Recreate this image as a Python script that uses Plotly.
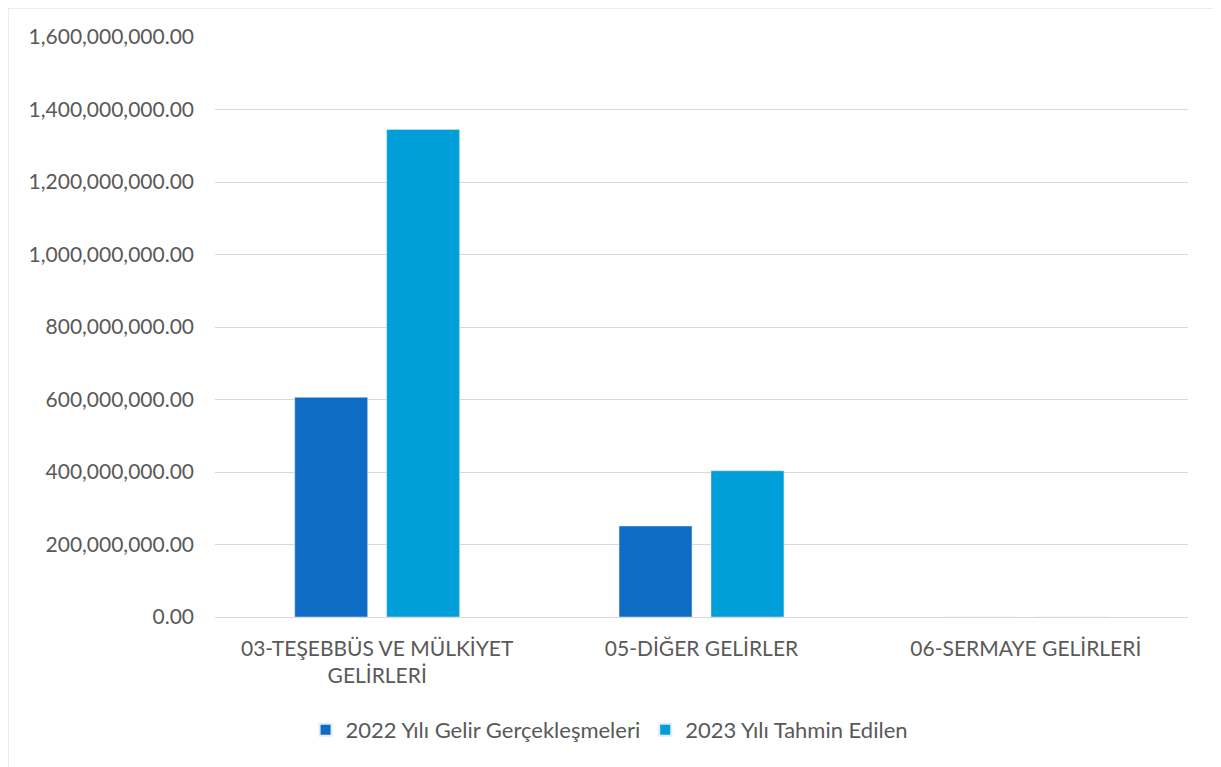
import plotly.graph_objects as go

categories = ["03-TEŞEBBÜS VE MÜLKİYET<br>GELİRLERİ", "05-DİĞER GELİRLER", "06-SERMAYE GELİRLERİ"]
series_2022 = [606000000, 251000000, 0]
series_2023 = [1345000000, 403500000, 0]
name_2022 = "2022 Yılı Gelir Gerçekleşmeleri"
name_2023 = "2023 Yılı Tahmin Edilen"
tick_vals = [0, 200000000, 400000000, 600000000, 800000000, 1000000000, 1200000000, 1400000000, 1600000000]

# page body has an 8px margin; figure coordinates are offset accordingly
OFF = 8
W, H = 1221 - OFF, 767 - OFF
L, R, T, B = 215 - OFF, 33, 37 - OFF, 150
pw, ph = W - L - R, H - T - B

fig = go.Figure()
fig.add_trace(go.Bar(x=categories, y=series_2022, name=name_2022, marker_color="#0F6CC4"))
fig.add_trace(go.Bar(x=categories, y=series_2023, name=name_2023, marker_color="#009FD9"))

font = dict(family="Lato, Open Sans, sans-serif", size=21, color="#595959")
legend_font = dict(family="Lato, Open Sans, sans-serif", size=22, color="#595959")

fig.update_layout(
    width=W, height=H,
    margin=dict(l=L, r=R, t=T, b=B),
    paper_bgcolor="white", plot_bgcolor="white",
    barmode="group", bargap=0.433, bargroupgap=0.2065,
    font=font,
    showlegend=True,
    legend=dict(orientation="h", x=0.405, xanchor="center", y=(617 - 730) / ph, yanchor="middle",
                font=legend_font, itemsizing="constant", traceorder="normal", itemwidth=30),
    xaxis=dict(showgrid=False, showline=False, ticks="", tickfont=font, ticklabelstandoff=17),
    yaxis=dict(range=[0, 1600000000], tickvals=tick_vals, tickformat=",.2f",
               showgrid=True, gridcolor="#D9D9D9", gridwidth=1,
               zeroline=True, zerolinecolor="#D9D9D9", zerolinewidth=1,
               showline=False, tickfont=font, ticklabelstandoff=20),
)

fig.add_shape(type="rect", xref="paper", yref="paper",
              x0=(0 - L) / pw, x1=(1206 - L) / pw,
              y0=(609 - 760) / ph, y1=1 + T / ph,
              line=dict(color="#D9D9D9", width=1), fillcolor="rgba(0,0,0,0)", layer="below")

fig.write_html("out.html")
